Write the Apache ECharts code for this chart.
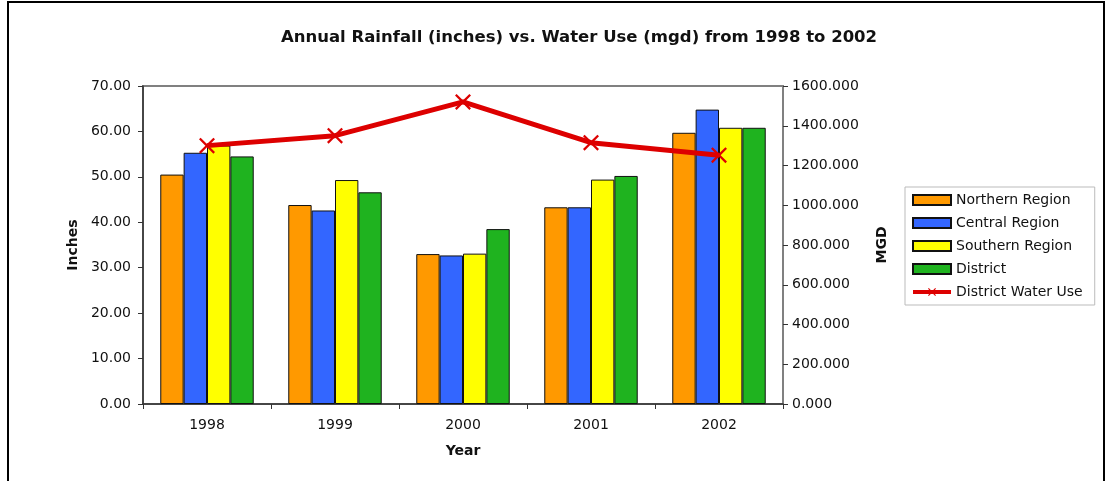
<!DOCTYPE html>
<html>
<head>
<meta charset="utf-8">
<script src="https://cdn.jsdelivr.net/npm/echarts@6/dist/echarts.min.js"></script>
<style>
  html, body { margin: 0; padding: 0; background: #fff; }
  #chart { width: 1109px; height: 481px; }
</style>
</head>
<body>
<div id="chart"></div>
<script>
const years = ['1998', '1999', '2000', '2001', '2002'];
const northern = [50.5, 43.8, 33.0, 43.3, 59.7];
const central = [55.3, 42.6, 32.7, 43.3, 64.8];
const southern = [56.9, 49.3, 33.1, 49.4, 60.8];
const district = [54.5, 46.6, 38.5, 50.2, 60.8];
const waterUse = [1300, 1350, 1520, 1315, 1252];

const FONT = 'DejaVu Sans';
const xMark = 'path://M0,1L1,0L5,4L9,0L10,1L6,5L10,9L9,10L5,6L1,10L0,9L4,5Z';

const bar = (name, data, color) => ({
  name,
  type: 'bar',
  data,
  barGap: 0,
  barCategoryGap: '27%',
  itemStyle: { color, borderColor: '#111', borderWidth: 1 },
  animation: false,
});

const chart = echarts.init(document.getElementById('chart'));
chart.setOption({
  animation: false,
  title: {
    text: 'Annual Rainfall (inches) vs. Water Use (mgd) from 1998 to 2002',
    left: 574,
    textAlign: 'center',
    top: 24,
    textStyle: { fontFamily: FONT, fontSize: 16.5, fontWeight: 'bold', color: '#111' },
  },
  graphic: [{
    type: 'rect',
    shape: { x: 8, y: 2, width: 1096, height: 500 },
    style: { fill: 'none', stroke: '#000', lineWidth: 2 },
    silent: true,
  }],
  legend: {
    orient: 'vertical',
    left: 905,
    top: 187,
    itemWidth: 38,
    itemHeight: 10,
    itemGap: 9,
    padding: [6, 12, 6, 6],
    borderColor: '#bbb',
    borderWidth: 1,
    textStyle: { fontFamily: FONT, fontSize: 14, color: '#111' },
    data: [
      { name: 'Northern Region', icon: 'rect' },
      { name: 'Central Region', icon: 'rect' },
      { name: 'Southern Region', icon: 'rect' },
      { name: 'District', icon: 'rect' },
      { name: 'District Water Use', lineStyle: { width: 4, color: '#dd0000' } },
    ],
  },
  grid: {
    left: 143, right: 326, top: 86, bottom: 77,
    show: true, borderColor: '#808080', borderWidth: 2,
  },
  xAxis: {
    type: 'category',
    data: years,
    name: 'Year',
    nameLocation: 'middle',
    nameGap: 40,
    nameTextStyle: { fontFamily: FONT, fontSize: 14, fontWeight: 'bold', color: '#111' },
    axisLine: { lineStyle: { color: '#333', width: 1.5 } },
    axisTick: { show: true, length: 5, lineStyle: { color: '#333' } },
    axisLabel: { fontFamily: FONT, fontSize: 14, color: '#111', margin: 14 },
  },
  yAxis: [{
    type: 'value',
    min: 0, max: 70, interval: 10,
    name: 'Inches',
    nameLocation: 'middle',
    nameGap: 63,
    nameRotate: 90,
    nameTextStyle: { fontFamily: FONT, fontSize: 14, fontWeight: 'bold', color: '#111' },
    axisLine: { show: true, lineStyle: { color: '#333', width: 1.5 } },
    axisTick: { show: true, length: 5, lineStyle: { color: '#333' } },
    axisLabel: { fontFamily: FONT, fontSize: 14, color: '#111', margin: 12, formatter: v => v.toFixed(2) },
    splitLine: { show: false },
  }, {
    type: 'value',
    min: 0, max: 1600, interval: 200,
    name: 'MGD',
    nameLocation: 'middle',
    nameGap: 92,
    nameRotate: 90,
    nameTextStyle: { fontFamily: FONT, fontSize: 14, fontWeight: 'bold', color: '#111' },
    axisLine: { show: true, lineStyle: { color: '#808080', width: 1.5 } },
    axisTick: { show: true, length: 5, lineStyle: { color: '#333' } },
    axisLabel: { fontFamily: FONT, fontSize: 14, color: '#111', margin: 9, formatter: v => v.toFixed(3) },
    splitLine: { show: false },
  }],
  series: [
    bar('Northern Region', northern, '#ff9900'),
    bar('Central Region', central, '#3366ff'),
    bar('Southern Region', southern, '#ffff00'),
    bar('District', district, '#1fb31f'),
    {
      name: 'District Water Use',
      type: 'line',
      yAxisIndex: 1,
      data: waterUse,
      symbol: xMark,
      symbolSize: 16,
      lineStyle: { color: '#dd0000', width: 5 },
      itemStyle: { color: '#dd0000' },
      z: 10,
      animation: false,
    },
  ],
});
</script>
</body>
</html>
